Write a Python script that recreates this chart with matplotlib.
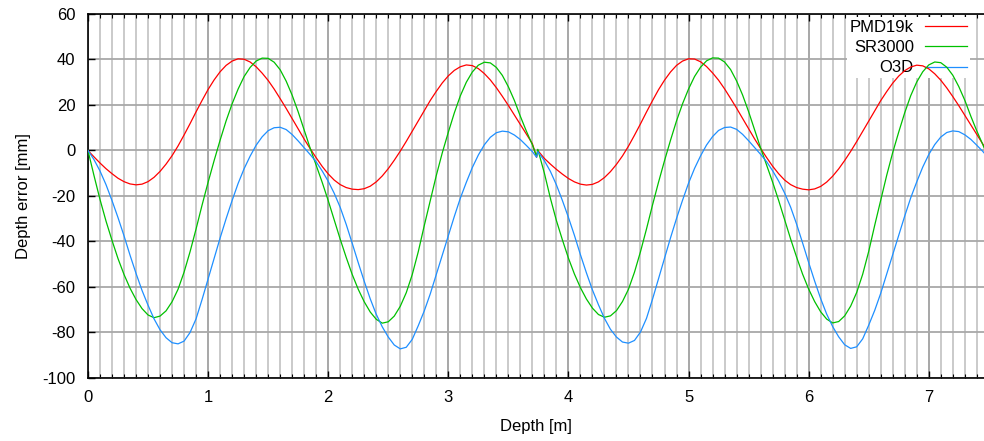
import matplotlib
matplotlib.use("Agg")
import matplotlib.pyplot as plt
from matplotlib.ticker import MultipleLocator

plt.rcParams['font.family'] = ['Liberation Sans', 'DejaVu Sans']
plt.rcParams['axes.unicode_minus'] = False

# Depth samples [m] (a small glitch near 3.74 m)
depth = ([round(0.05 * i, 3) for i in range(75)] + [3.735, 3.745]
         + [round(3.80 + 0.05 * i, 3) for i in range(75)])

pmd19k = [
    0, -2.8, -5.5, -8.0, -10.2, -12.2, -13.7, -14.7, -15.1, -14.8,
    -13.7, -11.8, -9.2, -6.0, -2.3, 2.0, 6.8, 11.8, 17.0, 22.0,
    26.8, 31.0, 34.6, 37.4, 39.3, 40.3, 40.1, 38.9, 36.8, 34.0,
    30.8, 27.0, 22.8, 18.5, 14.0, 9.5, 5.0, 0.8,
    -3.2, -7.0, -10.3, -13.0, -15.0, -16.3, -17.0, -17.2, -16.8, -15.7,
    -13.8, -11.2, -8.0, -4.3, -0.3, 4.0, 8.5, 13.0, 17.5, 22.0,
    26.0, 29.7, 32.8, 35.2, 36.8, 37.6, 37.3, 36.0, 33.8, 31.0,
    27.6, 23.8, 19.8, 15.6, 11.4, 7.2, 3.0,
    -3.0, 0.0,
    -3.5, -6.0, -8.3, -10.4, -12.3, -13.8, -14.8, -15.2, -14.9,
    -13.8, -11.9, -9.3, -6.1, -2.4, 1.9, 6.7, 11.7, 16.9, 21.9,
    26.7, 30.9, 34.5, 37.4, 39.3, 40.3, 40.2, 39.0, 36.9, 34.1,
    30.9, 27.1, 22.9, 18.6, 14.1, 9.6, 5.1, 0.9,
    -3.1, -6.9, -10.2, -13.0, -15.0, -16.3, -17.0, -17.3, -16.9, -15.8,
    -13.9, -11.3, -8.1, -4.4, -0.4, 3.9, 8.4, 12.9, 17.4, 21.9,
    25.9, 29.6, 32.7, 35.1, 36.7, 37.5, 37.2, 35.9, 33.7, 30.9,
    27.5, 23.7, 19.7, 15.5, 11.3, 7.1, 2.9, -1.5,
]

sr3000 = [
    0, -11.0, -21.5, -31.0, -39.5, -47.5, -54.5, -60.5, -65.5, -69.5,
    -72.3, -73.5, -72.8, -70.5, -66.5, -61.0, -53.5, -44.5, -34.5, -24.0,
    -14.0, -4.5, 4.5, 13.0, 20.5, 27.0, 32.5, 36.5, 39.3, 40.6,
    40.5, 38.8, 35.5, 30.5, 24.3, 17.0, 9.0, 1.0,
    -6.5, -14.0, -22.0, -30.5, -39.0, -47.0, -54.5, -61.0, -66.5, -71.0,
    -74.2, -75.9, -75.3, -72.8, -68.5, -62.5, -54.5, -44.5, -33.0, -22.0,
    -11.0, -1.0, 8.0, 16.5, 24.0, 30.0, 34.5, 37.5, 38.8, 38.5,
    36.5, 33.0, 28.0, 22.0, 15.0, 8.5, 2.5,
    -2.5, 0.5,
    -10.0, -21.0, -30.8, -39.3, -47.3, -54.3, -60.3, -65.3, -69.3,
    -72.1, -73.3, -72.7, -70.4, -66.4, -61.0, -53.5, -44.5, -34.5, -24.0,
    -14.0, -4.5, 4.5, 13.0, 20.5, 27.0, 32.5, 36.6, 39.4, 40.7,
    40.6, 38.9, 35.6, 30.6, 24.4, 17.1, 9.1, 1.1,
    -6.4, -13.9, -21.9, -30.4, -38.9, -46.9, -54.4, -60.9, -66.4, -70.9,
    -74.1, -75.8, -75.2, -72.7, -68.4, -62.4, -54.4, -44.4, -32.9, -21.9,
    -10.9, -0.9, 8.1, 16.6, 24.1, 30.1, 34.6, 37.6, 38.9, 38.6,
    36.6, 33.1, 28.1, 22.1, 15.1, 8.6, 2.6, -4.0,
]

o3d = [
    0, -4.0, -9.0, -15.0, -22.0, -29.5, -37.5, -46.0, -54.0, -61.5,
    -68.0, -74.0, -78.8, -82.3, -84.5, -85.0, -83.8, -80.0, -74.0, -65.5,
    -56.5, -47.5, -38.5, -30.0, -22.0, -14.5, -8.0, -2.5, 2.3, 6.0,
    8.7, 10.0, 10.2, 9.2, 7.0, 4.2, 1.2, -1.8,
    -5.0, -9.0, -13.5, -18.8, -25.0, -32.5, -40.8, -49.3, -57.5, -65.2,
    -72.0, -77.5, -82.0, -85.5, -87.2, -86.5, -83.0, -77.0, -70.5, -63.0,
    -54.5, -46.0, -37.5, -29.0, -21.0, -14.0, -7.5, -2.0, 2.5, 5.8,
    7.8, 8.5, 8.2, 6.8, 4.8, 2.2, -0.5,
    -3.0, -0.5,
    -4.5, -9.2, -15.1, -22.0, -29.4, -37.3, -45.8, -53.8, -61.3,
    -67.8, -73.8, -78.6, -82.0, -84.2, -84.7, -83.5, -79.8, -73.8, -65.4,
    -56.4, -47.4, -38.4, -29.9, -21.9, -14.4, -7.9, -2.4, 2.4, 6.1,
    8.8, 10.1, 10.3, 9.3, 7.1, 4.3, 1.3, -1.7,
    -4.9, -8.9, -13.4, -18.7, -24.9, -32.4, -40.7, -49.2, -57.4, -65.1,
    -71.9, -77.4, -81.9, -85.4, -87.0, -86.3, -82.8, -76.8, -70.3, -62.8,
    -54.3, -45.8, -37.3, -28.8, -20.8, -13.8, -7.3, -1.8, 2.6, 5.9,
    7.9, 8.6, 8.3, 6.9, 4.9, 2.3, -0.4, -3.5,
]

series_names = ["PMD19k", "SR3000", "O3D"]
series_colors = ["#ff0000", "#00c000", "#1e8fff"]

fig = plt.figure(figsize=(9.84, 4.41), dpi=100)
ax = fig.add_axes([0.0894, 0.1429, 1.0 - 0.0894, 0.9683 - 0.1429])

for vals, name, col in zip([pmd19k, sr3000, o3d], series_names, series_colors):
    ax.plot(depth, vals, color=col, lw=0.9, label=name, zorder=3)

ax.set_xlim(0, 7.46)
ax.set_ylim(-100, 60)
ax.xaxis.set_major_locator(MultipleLocator(1))
ax.xaxis.set_minor_locator(MultipleLocator(0.1))
ax.yaxis.set_major_locator(MultipleLocator(20))
ax.set_axisbelow(True)
ax.grid(True, which='minor', axis='x', color='#c6c6c6', lw=1.3)
ax.grid(True, which='major', axis='x', color='#a0a0a0', lw=1.3)
ax.grid(True, which='major', axis='y', color='#a8a8a8', lw=1.3)

ax.tick_params(axis='both', which='both', direction='in', top=True,
               labelsize=12, colors='black', pad=9)
ax.tick_params(axis='both', which='major', length=5, width=1)
ax.tick_params(axis='x', which='minor', length=3, width=0.8)
ax.spines['right'].set_visible(False)
for s in ['left', 'bottom', 'top']:
    ax.spines[s].set_linewidth(1.2)

ax.set_xlabel("Depth [m]", fontsize=12, labelpad=10)
ax.set_ylabel("Depth error [mm]", fontsize=12, labelpad=8)

leg = ax.legend(loc='upper right', bbox_to_anchor=(1.0 - 11 / 896, 1.0), fontsize=12,
                markerfirst=False, frameon=True, fancybox=False,
                handlelength=2.5, handletextpad=0.7, borderpad=0.15,
                labelspacing=0.32, borderaxespad=0.2)
leg.get_frame().set_facecolor('white')
leg.get_frame().set_edgecolor('none')
leg.get_frame().set_alpha(1.0)
for t in leg.get_texts():
    t.set_ha('right')
leg.set_zorder(1.5)

fig.savefig("out.png", dpi=100)
